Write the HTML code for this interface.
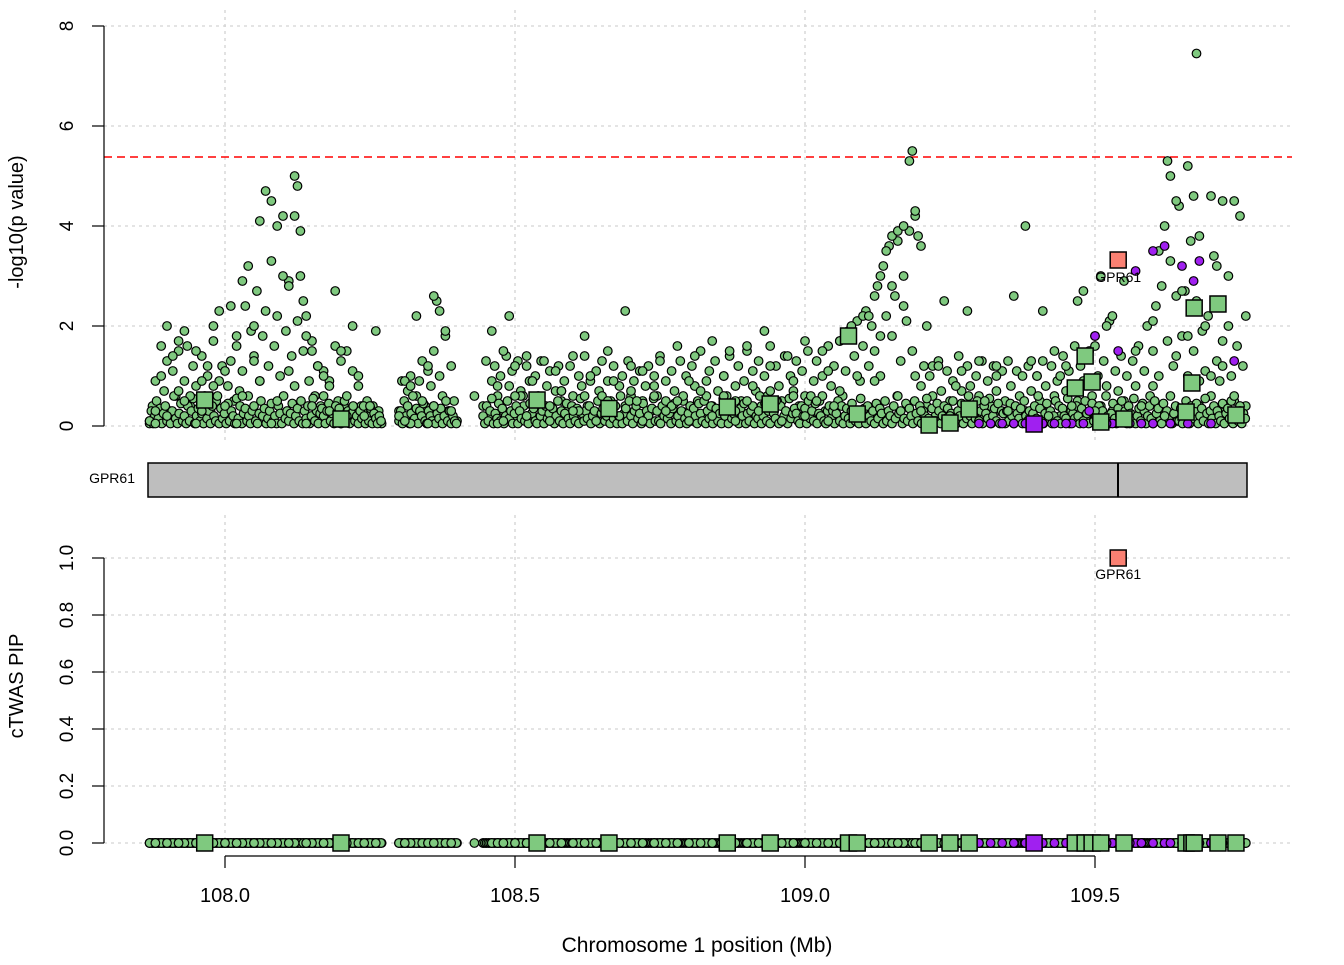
<!DOCTYPE html>
<html><head><meta charset="utf-8"><style>
body{margin:0;background:#fff}
svg text{font-family:"Liberation Sans",sans-serif}
</style></head><body>
<svg id="chart" width="1344" height="960" viewBox="0 0 1344 960" xmlns="http://www.w3.org/2000/svg">
<g id="grid"></g>
<g id="axes"></g>
<g id="marks"></g>
</svg>
<script>
const xTicks=[108.0,108.5,109.0,109.5];
const xTickLabels=["108.0","108.5","109.0","109.5"];
const yTopTicks=[0,2,4,6,8];
const yBotTicks=[0,0.2,0.4,0.6,0.8,1.0];
const yBotTickLabels=["0.0","0.2","0.4","0.6","0.8","1.0"];
const threshold=5.38;
const snpPos=[107.87,107.88,107.89,107.9,107.91,107.92,107.93,107.94,107.95,107.96,107.97,107.98,107.99,108.0,108.01,108.02,108.03,108.04,108.05,108.06,108.07,108.08,108.09,108.1,108.11,108.12,108.125,108.13,108.135,108.14,108.15,108.16,108.17,108.18,108.19,108.2,108.21,108.22,108.23,108.25,108.26,107.9,107.93,107.96,108.0,108.03,108.06,108.09,108.12,108.15,108.18,108.21,107.88,107.95,108.02,108.08,108.14,108.2,107.92,107.98,108.05,108.11,108.17,108.24,
108.3,108.31,108.32,108.33,108.34,108.35,108.36,108.37,108.38,108.39,108.35,108.32,108.43,108.47,108.36,108.31,
108.46,108.47,108.48,108.49,108.5,108.51,108.52,108.53,108.55,108.56,108.57,108.58,108.6,108.61,108.62,108.63,108.65,108.66,108.67,108.69,108.7,108.71,108.72,108.74,108.75,108.77,108.78,108.8,108.81,108.83,108.84,108.86,108.87,108.88,108.9,108.91,108.93,108.94,108.95,108.97,108.98,109.0,109.01,109.03,109.04,109.05,109.06,109.08,109.09,109.1,108.48,108.52,108.56,108.6,108.64,108.68,108.72,108.76,108.8,108.84,108.88,108.92,108.96,109.0,109.04,109.08,108.5,108.54,108.58,108.62,108.66,108.7,108.74,108.78,108.82,108.86,108.9,108.94,108.98,109.02,109.06,
109.11,109.12,109.13,109.14,109.15,109.16,109.17,109.18,109.185,109.19,109.2,109.21,109.22,109.15,109.17,109.13,109.19,109.16,109.12,109.2,
109.23,109.24,109.26,109.28,109.3,109.31,109.33,109.36,109.38,109.4,109.41,109.43,109.45,109.47,109.48,109.5,109.51,109.52,109.25,109.3,109.35,109.42,109.46,109.5,109.27,109.33,109.39,109.44,
109.53,109.55,109.57,109.6,109.61,109.62,109.625,109.63,109.64,109.65,109.66,109.67,109.675,109.68,109.69,109.7,109.71,109.72,109.73,109.74,109.75,109.76,109.6,109.64,109.68,109.72,109.75,109.58,109.62,109.66,109.7,109.74];
const snpVal=[0.1,0.3,1.0,2.0,1.4,1.7,1.9,0.6,1.5,0.9,1.2,2.0,2.3,1.1,2.4,1.6,2.9,3.2,2.0,4.1,4.7,4.5,4.0,3.0,2.8,5.0,4.8,3.9,2.5,1.8,1.5,1.2,1.0,0.8,2.7,1.5,0.6,2.0,1.0,0.4,1.9,0.2,0.5,0.3,0.4,0.6,0.9,0.5,0.8,0.4,0.3,0.2,0.05,0.05,0.05,0.05,0.05,0.05,0.7,0.8,1.3,1.1,0.6,0.2,
0.2,0.9,0.8,2.2,0.5,1.2,2.6,2.3,1.9,0.3,0.05,0.05,0.6,0.05,0.4,0.1,
1.9,0.8,1.5,2.2,1.2,0.6,1.4,0.9,1.3,0.4,1.1,0.7,1.4,0.3,1.8,1.0,0.6,1.5,0.9,2.3,1.2,0.5,1.1,0.8,1.3,0.4,1.6,0.9,1.4,0.6,1.7,1.0,1.5,0.3,1.6,0.8,1.9,1.2,0.5,1.4,0.9,1.7,0.6,1.5,1.1,0.4,1.7,2.0,1.0,2.2,0.1,0.2,0.1,0.3,0.1,0.2,0.1,0.3,0.1,0.2,0.1,0.3,0.1,0.2,0.1,0.3,0.6,0.5,0.7,0.6,0.5,0.7,0.6,0.5,0.7,0.6,0.5,0.7,0.6,0.5,0.7,
2.2,2.6,3.0,3.5,3.8,3.9,4.0,5.3,5.5,4.3,3.6,2.0,1.2,2.8,2.4,1.8,1.0,0.6,0.9,0.3,
1.2,2.5,0.8,2.3,1.3,0.5,1.0,2.6,4.0,1.0,2.3,1.5,1.2,2.5,2.7,1.6,3.0,2.0,0.2,0.1,0.3,0.2,0.4,0.3,1.1,1.2,1.3,1.0,
2.2,2.9,1.5,2.1,3.5,4.0,5.3,5.0,4.5,2.7,5.2,4.6,7.45,3.8,2.0,4.6,3.2,4.5,3.0,4.5,4.2,2.2,0.8,1.4,0.9,1.2,0.3,0.4,0.2,1.8,1.0,0.6];
// regularly spaced SNP bands: segment start, step
const bandStart=[107.87,108.30,108.445,107.87,108.30,108.445];
const bandStep=[0.005,0.005,0.005,0.003,0.003,0.003];
const bandValA=[0.05,0.4,0.9,0.2,1.6,0.7,1.3,0.3,1.1,0.6,1.5,0.2,0.9,1.6,0.4,1.2,0.8,0.1,1.4,0.6,1.0,0.3,1.7,0.5,0.9,1.2,0.3,0.8,1.3,0.5,1.8,0.7,1.1,2.4,0.6,1.9,1.4,2.7,0.9,1.8,2.3,1.2,3.3,1.6,2.2,1.0,4.2,1.9,2.9,1.4,4.2,2.1,3.0,1.5,2.2,0.9,1.7,0.6,1.2,0.4,1.1,0.3,0.9,0.2,1.6,0.5,1.3,0.4,1.5,0.3,1.1,0.2,0.8,0.4,0.3,0.5,0.2,0.4,0.1,0.3,0.05];
const bandValB=[0.3,0.9,0.2,0.7,1.0,0.1,0.6,0.9,1.3,0.4,1.1,0.8,1.5,2.5,1.0,0.6,1.8,0.3,1.2,0.5,0.1];
const bandValC=[0.4,1.3,0.2,0.9,1.2,0.6,1.0,0.3,1.4,0.8,
1.1,0.2,1.3,0.7,0.4,1.2,0.9,0.1,1.0,0.6,1.3,0.3,0.8,1.1,0.2,0.7,1.2,0.5,0.9,0.3,
1.2,0.6,0.1,1.0,0.8,1.4,0.4,0.9,0.2,1.1,0.7,1.3,0.3,0.9,0.5,1.2,0.1,0.8,1.0,0.4,
1.3,0.6,0.9,0.2,1.1,0.5,0.8,1.2,0.3,1.0,0.6,1.4,0.2,0.9,0.4,1.1,0.7,0.1,1.3,0.5,
1.0,0.3,1.2,0.8,0.5,1.5,0.2,0.9,1.1,0.4,1.3,0.7,0.1,1.0,0.6,1.4,0.3,0.8,1.2,0.5,
0.9,1.5,0.2,1.1,0.7,1.3,0.4,1.0,0.6,1.6,0.3,1.2,0.8,0.5,1.4,0.1,1.0,0.7,1.3,0.4,
1.1,0.6,1.5,0.2,0.9,1.3,0.5,1.0,0.3,1.6,0.8,1.2,0.4,1.7,0.6,1.1,1.9,0.3,1.4,2.1,
0.9,1.6,2.3,1.2,2.0,1.5,2.8,1.0,3.2,2.2,3.6,1.8,2.6,3.7,1.3,3.0,2.1,3.9,1.5,4.2,
3.8,0.8,1.2,0.4,1.0,0.6,0.2,1.3,0.7,0.3,1.1,0.5,0.9,0.2,1.4,0.7,0.3,1.2,0.8,0.1,
1.0,0.6,1.3,0.2,0.9,0.4,1.2,0.7,0.3,1.1,0.5,1.3,0.8,0.2,1.1,0.6,1.0,0.3,1.2,0.7,
0.1,1.0,0.5,1.3,0.8,0.3,1.2,0.6,0.9,0.2,1.4,0.7,1.1,0.3,1.6,0.5,1.2,0.9,0.2,1.5,
0.6,1.8,1.0,0.4,1.3,0.8,2.1,0.3,1.1,0.7,1.4,0.5,1.0,0.2,1.3,0.8,1.6,0.4,1.1,2.0,
0.6,1.5,2.4,1.0,2.8,0.3,1.7,3.3,1.2,2.6,4.4,1.8,2.7,1.0,3.7,1.5,2.5,0.4,1.9,1.1,
2.2,0.6,3.4,1.3,0.9,1.7,0.3,2.0,1.0,0.5,1.6,0.2,1.2,0.4];
const bandValD=[0.1,0.3,0.05,0.2,0.5,0.15,0.35,0.05,0.25,0.4,0.1,0.2,0.05,0.3,0.6,0.15,0.05,0.25,0.45,0.1,
0.2,0.05,0.4,0.1,0.3,0.55,0.05,0.2,0.35,0.1,0.25,0.05,0.5,0.15,0.3,0.05,0.4,0.2,0.1,0.6,
0.05,0.35,0.15,0.25,0.05,0.45,0.1,0.3,0.2,0.05,0.55,0.15,0.4,0.05,0.25,0.35,0.1,0.2,0.05,0.3,
0.4,0.1,0.05,0.25,0.5,0.2,0.35,0.05,0.15,0.3,0.45,0.1,0.2,0.05,0.4,0.25,0.05,0.6,0.15,0.3,
0.1,0.25,0.45,0.05,0.2,0.35,0.1,0.5,0.05,0.3,0.15,0.4,0.05,0.2,0.55,0.1,0.3,0.05,0.25,0.35,
0.2,0.05,0.3,0.45,0.1,0.25,0.05,0.4,0.15,0.35,0.05,0.2,0.5,0.1,0.3,0.05,0.25,0.4,0.1,0.2,
0.05,0.3,0.15,0.4,0.05,0.2,0.1,0.35,0.05,0.25,0.15,0.05,0.2,0.1];
const bandValE=[0.1,0.3,0.05,0.5,0.2,0.4,0.05,0.25,0.6,0.15,0.35,0.05,0.3,0.2,0.45,0.1,0.05,0.3,0.2,0.1,
0.4,0.05,0.25,0.15,0.35,0.05,0.2,0.5,0.1,0.3,0.05,0.2,0.1,0.05];
const bandValF=[0.2,0.05,0.4,0.1,0.3,0.55,0.05,0.25,0.15,0.45,0.1,0.35,0.05,0.2,0.5,0.15,0.3,0.05,0.25,0.4,
0.05,0.3,0.15,0.6,0.1,0.2,0.05,0.45,0.25,0.35,0.1,0.05,0.5,0.2,0.3,0.05,0.4,0.15,0.25,0.1,
0.35,0.05,0.2,0.5,0.1,0.3,0.05,0.25,0.45,0.15,0.05,0.4,0.2,0.1,0.35,0.05,0.55,0.25,0.1,0.3,
0.15,0.4,0.05,0.2,0.3,0.1,0.5,0.05,0.25,0.35,0.1,0.2,0.45,0.05,0.3,0.15,0.4,0.05,0.2,0.6,
0.05,0.25,0.35,0.1,0.5,0.2,0.05,0.3,0.4,0.15,0.25,0.05,0.45,0.1,0.3,0.2,0.05,0.35,0.55,0.1,
0.3,0.1,0.05,0.4,0.2,0.5,0.15,0.25,0.05,0.35,0.45,0.1,0.2,0.05,0.3,0.6,0.15,0.05,0.25,0.4,
0.1,0.35,0.2,0.05,0.45,0.25,0.1,0.5,0.05,0.3,0.15,0.4,0.05,0.2,0.35,0.1,0.25,0.05,0.55,0.2,
0.4,0.05,0.3,0.15,0.25,0.5,0.1,0.05,0.35,0.2,0.45,0.05,0.25,0.1,0.3,0.4,0.05,0.2,0.15,0.6,
0.05,0.2,0.45,0.1,0.3,0.05,0.35,0.25,0.15,0.5,0.05,0.4,0.1,0.2,0.3,0.05,0.55,0.15,0.25,0.35,
0.25,0.1,0.05,0.4,0.2,0.35,0.05,0.5,0.15,0.3,0.1,0.45,0.05,0.25,0.2,0.6,0.1,0.05,0.3,0.4,
0.15,0.3,0.05,0.25,0.5,0.1,0.4,0.05,0.2,0.35,0.15,0.05,0.45,0.3,0.1,0.25,0.05,0.55,0.2,0.35,
0.05,0.4,0.2,0.1,0.3,0.05,0.45,0.15,0.35,0.25,0.05,0.5,0.1,0.3,0.2,0.05,0.4,0.15,0.6,0.25,
0.3,0.05,0.15,0.45,0.1,0.35,0.2,0.05,0.5,0.25,0.1,0.4,0.05,0.3,0.2,0.55,0.15,0.05,0.35,0.1,
0.1,0.45,0.3,0.05,0.2,0.4,0.15,0.35,0.05,0.25,0.5,0.1,0.05,0.3,0.2,0.45,0.05,0.25,0.15,0.6,
0.2,0.05,0.35,0.15,0.5,0.1,0.3,0.05,0.4,0.25,0.15,0.55,0.05,0.2,0.35,0.1,0.45,0.05,0.3,0.25,
0.05,0.3,0.1,0.45,0.2,0.05,0.4,0.25,0.15,0.35,0.05,0.5,0.2,0.1,0.3,0.05,0.25,0.4,0.15,0.6,
0.35,0.1,0.05,0.25,0.45,0.15,0.3,0.05,0.2,0.5,0.1,0.4,0.05,0.35,0.2,0.15,0.55,0.05,0.3,0.25,
0.15,0.4,0.2,0.05,0.35,0.1,0.5,0.25,0.05,0.3,0.45,0.1,0.2,0.05,0.4,0.15,0.3,0.05,0.6,0.2,
0.05,0.25,0.45,0.15,0.05,0.35,0.2,0.5,0.1,0.3,0.05,0.4,0.25,0.15,0.55,0.05,0.2,0.35,0.1,0.45,
0.3,0.05,0.2,0.4,0.15,0.05,0.5,0.25,0.35,0.1,0.05,0.45,0.2,0.3,0.15,0.6,0.05,0.25,0.4,0.1,
0.1,0.35,0.05,0.25,0.5,0.2,0.05,0.4,0.15,0.3,0.45,0.05,0.2,0.35,0.1,0.55,0.25,0.05,0.3,0.15,
0.4,0.05,0.3,0.2,0.1,0.45,0.05,0.25,0.35,0.15,0.5,0.05,0.2,0.3,0.1,0.4,0.05,0.25,0.15];
const purplePos=[109.49,109.5,109.54,109.57,109.6,109.62,109.65,109.67,109.74,109.43,109.46,109.53,109.6,109.36,109.3,109.68,109.32,109.34,109.38,109.41,109.45,109.48,109.52,109.56,109.58,109.63,109.66,109.7];
const purpleVal=[0.3,1.8,1.5,3.1,3.5,3.6,3.2,2.9,1.3,0.05,0.05,0.05,0.05,0.05,0.05,3.3,0.05,0.05,0.05,0.05,0.05,0.05,0.05,0.05,0.05,0.05,0.05,0.05];
const genePos=[107.965,108.2,108.538,108.662,108.866,108.94,109.075,109.09,109.214,109.25,109.283,109.395,109.466,109.483,109.495,109.51,109.55,109.54,109.657,109.667,109.671,109.712,109.743];
const geneVal=[0.52,0.14,0.52,0.35,0.38,0.44,1.8,0.24,0.02,0.06,0.34,0.04,0.76,1.4,0.88,0.08,0.14,3.32,0.28,0.86,2.36,2.44,0.22];
const genePip=[0,0,0,0,0,0,0,0,0,0,0,0,0,0,0,0,0,1.0,0,0,0,0,0];
const geneType=["g","g","g","g","g","g","g","g","g","g","g","p","g","g","g","g","g","s","g","g","g","g","g"];

const NS="http://www.w3.org/2000/svg";
const X=v=>225+(v-108)*580;
const YT=v=>426-v*50;
const YB=v=>843-v*285;
function mk(p,tag,at){const e=document.createElementNS(NS,tag);for(const k in at)e.setAttribute(k,at[k]);p.appendChild(e);return e;}
const grid=document.getElementById('grid'),axes=document.getElementById('axes'),marks=document.getElementById('marks');
const gs={stroke:"#d3d3d3","stroke-dasharray":"3,4","stroke-width":1.3};
xTicks.forEach(t=>{
  let l=mk(grid,'line',Object.assign({x1:X(t),x2:X(t),y1:10,y2:440},gs));
  
  l=mk(grid,'line',Object.assign({x1:X(t),x2:X(t),y1:515,y2:850},gs));
  
});
yTopTicks.forEach(t=>{const l=mk(grid,'line',Object.assign({x1:104,x2:1292,y1:YT(t),y2:YT(t)},gs));
  });
yBotTicks.forEach(t=>{const l=mk(grid,'line',Object.assign({x1:104,x2:1292,y1:YB(t),y2:YB(t)},gs));
  });
let th=mk(grid,'line',{x1:104,x2:1292,y1:YT(threshold),y2:YT(threshold),stroke:"#ff0000","stroke-dasharray":"8,5","stroke-width":1.5});

const ax={stroke:"#000","stroke-width":1.2};
let a=mk(axes,'line',Object.assign({x1:104,x2:104,y1:YT(8),y2:YT(0)},ax));
yTopTicks.forEach(t=>{mk(axes,'line',Object.assign({x1:92,x2:104,y1:YT(t),y2:YT(t)},ax));
  const tx=mk(axes,'text',{x:73,y:YT(t),transform:`rotate(-90 73 ${YT(t)})`,"text-anchor":"middle","font-size":19});tx.textContent=t;
  });
a=mk(axes,'line',Object.assign({x1:104,x2:104,y1:YB(1),y2:YB(0)},ax));
yBotTicks.forEach((t,i)=>{mk(axes,'line',Object.assign({x1:92,x2:104,y1:YB(t),y2:YB(t)},ax));
  const tx=mk(axes,'text',{x:73,y:YB(t),transform:`rotate(-90 73 ${YB(t)})`,"text-anchor":"middle","font-size":19});tx.textContent=yBotTickLabels[i];
  });
a=mk(axes,'line',Object.assign({x1:X(108),x2:X(109.5),y1:856,y2:856},ax));
xTicks.forEach((t,i)=>{mk(axes,'line',Object.assign({x1:X(t),x2:X(t),y1:856,y2:868},ax));
  const tx=mk(axes,'text',{x:X(t),y:902,"text-anchor":"middle","font-size":20});tx.textContent=xTickLabels[i];
  });
let t1=mk(axes,'text',{x:23,y:222,transform:"rotate(-90 23 222)","text-anchor":"middle","font-size":20});t1.textContent="-log10(p value)";

let t2=mk(axes,'text',{x:23,y:686,transform:"rotate(-90 23 686)","text-anchor":"middle","font-size":20});t2.textContent="cTWAS PIP";

let t3=mk(axes,'text',{x:697,y:952,"text-anchor":"middle","font-size":21});t3.textContent="Chromosome 1 position (Mb)";

let gr=mk(axes,'rect',{x:148,y:463,width:1099,height:34,fill:"#bebebe",stroke:"#000","stroke-width":1.5});

mk(axes,'line',{x1:1118,x2:1118,y1:463,y2:497,stroke:"#000","stroke-width":2});
let gl=mk(axes,'text',{x:135,y:483,"text-anchor":"end","font-size":14});gl.textContent="GPR61";

const G="#7fc97f",P="#a020f0",S="#fa8072";
function dot(x,y,c){return mk(marks,'circle',{cx:x,cy:y,r:4.3,fill:c,stroke:"#000","stroke-width":1.2});}
[bandValA,bandValB,bandValC,bandValD,bandValE,bandValF].forEach((vals,s)=>{vals.forEach((v,i)=>{
  const p=bandStart[s]+i*bandStep[s];
  let e=dot(X(p),YT(v),G);
  
  
  e=dot(X(p),YB(0),G);
  
  
});});
snpPos.forEach((p,i)=>{const e=dot(X(p),YT(snpVal[i]),G);});
snpPos.forEach((p,i)=>{const e=dot(X(p),YB(0),G);});
purplePos.forEach((p,i)=>{const e=dot(X(p),YT(purpleVal[i]),P);});
purplePos.forEach((p,i)=>{const e=dot(X(p),YB(0),P);});
function sq(x,y,c){return mk(marks,'rect',{x:x-8,y:y-8,width:16,height:16,fill:c,stroke:"#000","stroke-width":1.5});}
genePos.forEach((p,i)=>{const c=geneType[i]=="s"?S:geneType[i]=="p"?P:G;
  let e=sq(X(p),YT(geneVal[i]),c);
  e=sq(X(p),YB(genePip[i]),c);
  if(geneType[i]=="s"){
    let l=mk(marks,'text',{x:X(p),y:YT(geneVal[i])+22,"text-anchor":"middle","font-size":14});l.textContent="GPR61";
    
    l=mk(marks,'text',{x:X(p),y:YB(genePip[i])+21,"text-anchor":"middle","font-size":14});l.textContent="GPR61";
    
  }});
</script>
</body></html>
